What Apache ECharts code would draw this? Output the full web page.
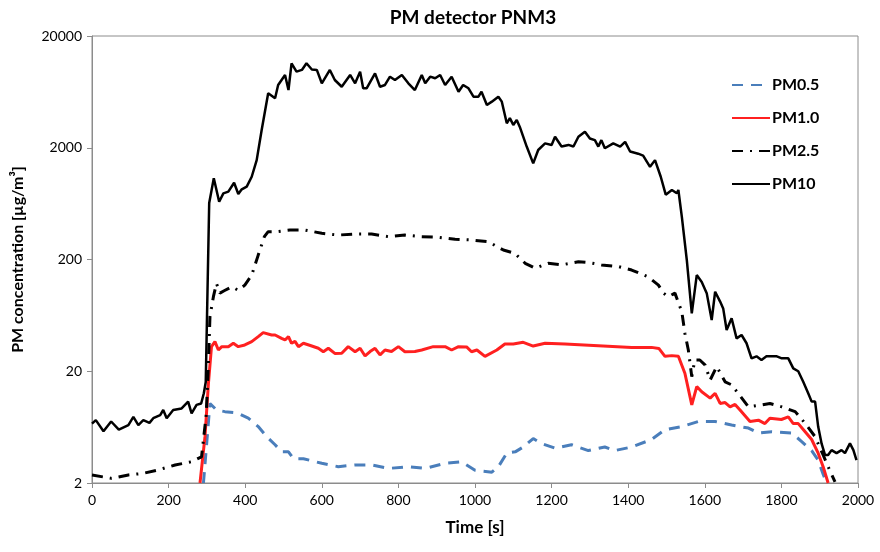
<!DOCTYPE html>
<html>
<head>
<meta charset="utf-8">
<title>PM detector PNM3</title>
<script src="https://cdn.jsdelivr.net/npm/echarts@6/dist/echarts.min.js"></script>
<style>
  html, body { margin: 0; padding: 0; background: #fff; }
  #chart { width: 880px; height: 552px; }
</style>
</head>
<body>
<div id="chart"></div>
<script>
// time [s] and concentration [ug/m3]
const pm05Time = [291, 308, 325, 347, 378, 408, 434, 456, 478, 495, 513, 526, 552, 600, 643, 687, 730, 774, 826, 870, 922, 965, 1000, 1044, 1061, 1083, 1105, 1126, 1152, 1174, 1209, 1252, 1296, 1339, 1365, 1409, 1461, 1496, 1540, 1583, 1627, 1670, 1714, 1740, 1775, 1827, 1853, 1879, 1896, 1909, 1918]
const pm05Values = [2, 10.3, 9.0, 8.7, 8.5, 7.6, 6.4, 5.2, 4.4, 3.8, 3.8, 3.3, 3.3, 3.0, 2.8, 2.9, 2.9, 2.7, 2.8, 2.7, 3.0, 3.1, 2.6, 2.5, 2.8, 3.7, 3.8, 4.2, 5.0, 4.5, 4.1, 4.4, 3.9, 4.2, 3.9, 4.2, 4.9, 6.0, 6.4, 7.1, 7.1, 6.6, 6.2, 5.6, 5.75, 5.6, 4.7, 3.9, 3.2, 2.4, 2]

const pm10Time = [282, 295, 304, 312, 321, 330, 339, 356, 369, 382, 399, 417, 434, 447, 469, 478, 495, 504, 513, 521, 530, 539, 552, 570, 591, 604, 617, 634, 652, 669, 687, 700, 713, 726, 739, 752, 765, 782, 800, 817, 843, 861, 891, 922, 939, 957, 978, 991, 1005, 1026, 1057, 1078, 1100, 1126, 1152, 1183, 1235, 1322, 1409, 1461, 1480, 1496, 1514, 1531, 1548, 1566, 1579, 1592, 1614, 1627, 1640, 1653, 1666, 1679, 1692, 1718, 1740, 1757, 1770, 1800, 1818, 1831, 1844, 1862, 1879, 1896, 1909, 1922]
const pm10Values = [2, 5.2, 15.6, 33.2, 36.8, 31, 33.2, 33.2, 35.6, 33.2, 34.4, 36.8, 40.8, 44.3, 42.2, 42.2, 39.4, 38.1, 40.8, 35.6, 37, 33.2, 35.6, 34, 32.1, 29.9, 32.1, 28.9, 29, 33.2, 29.9, 32.1, 27.4, 30, 32.1, 28, 31, 30, 33.2, 29.9, 30, 31, 33.2, 33.2, 31, 33.2, 33, 29.9, 31, 27.2, 31, 35.1, 35, 36.3, 33.6, 35.6, 35.1, 33.9, 32.7, 32.7, 32, 27.2, 27.6, 27.2, 19.2, 10.0, 14.6, 13.1, 11.5, 12.7, 10.3, 10.5, 9.6, 10.1, 9.0, 7.1, 7.3, 6.8, 7.6, 7.4, 7.8, 6.8, 6.8, 5.75, 4.9, 3.7, 2.8, 2]

const pm25Time = [0, 51, 95, 134, 173, 217, 260, 286, 298, 303, 308, 317, 325, 334, 345, 365, 382, 399, 417, 434, 450, 460, 482, 517, 556, 600, 643, 687, 730, 774, 817, 861, 904, 948, 991, 1035, 1074, 1104, 1131, 1157, 1191, 1226, 1270, 1300, 1330, 1374, 1409, 1452, 1479, 1492, 1505, 1522, 1540, 1548, 1557, 1566, 1574, 1587, 1601, 1614, 1631, 1653, 1670, 1687, 1714, 1748, 1770, 1801, 1836, 1862, 1888, 1909, 1922, 1940]
const pm25Values = [2.36, 2.2, 2.36, 2.44, 2.62, 2.9, 3.1, 3.43, 8, 19, 61.6, 93, 122, 100, 105, 114, 106, 118, 145, 219, 320, 355, 355, 367, 367, 343, 331, 338, 338, 320, 331, 320, 316, 303, 299, 288, 243, 227, 185, 167, 185, 179, 191, 187, 179, 173, 161, 140, 118, 100, 93, 100, 68, 43.8, 31, 17.9, 25.2, 25.2, 22.7, 16.7, 22, 16.1, 15.1, 12.7, 9.6, 10.0, 10.3, 9.6, 8.7, 6.84, 5.19, 3.56, 2.8, 2.05]

const pmTenTime = [0, 10, 30, 50, 70, 95, 108, 121, 134, 150, 160, 178, 186, 195, 212, 234, 251, 260, 273, 285, 292, 297, 306, 318, 332, 343, 356, 371, 382, 391, 404, 417, 430, 443, 460, 478, 486, 495, 504, 513, 521, 534, 548, 560, 574, 587, 600, 621, 634, 652, 674, 687, 700, 708, 717, 739, 752, 765, 778, 791, 809, 826, 843, 861, 870, 883, 896, 909, 922, 939, 957, 969, 983, 996, 1009, 1017, 1031, 1044, 1061, 1070, 1083, 1091, 1100, 1109, 1117, 1135, 1152, 1165, 1183, 1200, 1209, 1226, 1244, 1257, 1270, 1287, 1300, 1313, 1322, 1330, 1339, 1361, 1379, 1392, 1405, 1426, 1439, 1457, 1470, 1485, 1498, 1514, 1527, 1531, 1540, 1553, 1566, 1579, 1592, 1605, 1618, 1627, 1640, 1648, 1657, 1670, 1683, 1696, 1709, 1722, 1735, 1748, 1761, 1775, 1788, 1801, 1818, 1831, 1844, 1857, 1870, 1879, 1888, 1896, 1905, 1914, 1922, 1931, 1944, 1957, 1966, 1979, 1988, 1996]
const pmTenValues = [6.8, 7.3, 5.8, 7.1, 6.0, 6.6, 7.8, 6.6, 7.3, 6.9, 7.6, 8.1, 9.0, 7.6, 9.0, 9.3, 10.7, 8.4, 10.0, 10.3, 12.7, 16, 640, 1066, 658, 782, 809, 973, 771, 849, 897, 1100, 1550, 2880, 6140, 5540, 7290, 8080, 8960, 6570, 11400, 9600, 9940, 11400, 10030, 9940, 7550, 9940, 8080, 7030, 8960, 7550, 9600, 6810, 6810, 9270, 7030, 7290, 8650, 8080, 8960, 7550, 6570, 8960, 7550, 8650, 8370, 8960, 7290, 8650, 6350, 7290, 6810, 5730, 5730, 6350, 4830, 5170, 5730, 5170, 3310, 3680, 3200, 3550, 3070, 2050, 1450, 1910, 2190, 2120, 2510, 2050, 2120, 2050, 2510, 2780, 2420, 2340, 2050, 2340, 1980, 2190, 2050, 2260, 1850, 1770, 1700, 1350, 1550, 1100, 760, 838, 782, 838, 483, 198, 66, 145, 126, 100, 57.5, 103, 84, 73, 46.8, 59.6, 39.4, 42.2, 35.6, 26.1, 27.2, 25.2, 27.2, 27.2, 27.2, 26.1, 26.1, 21.2, 20.0, 16.1, 12.7, 10.7, 10.7, 6.4, 4.5, 3.56, 3.56, 3.94, 3.7, 3.94, 3.7, 4.53, 3.94, 3.21]

const yTicks = [2, 20, 200, 2000, 20000]
const yBase = 2

// the axis is log10(v / 2), so 2 -> 0 and 20000 -> 4
function toPairs(times, values) {
    return times.map((t, i) => [t, Math.log10(values[i] / yBase)])
}

const chart = echarts.init(document.getElementById('chart'))
const font = 'Lato, "Open Sans", sans-serif'

chart.setOption({
    backgroundColor: '#fff',
    animation: false,
    textStyle: { fontFamily: font },
    title: {
        text: 'PM detector PNM3',
        left: 468,
        textAlign: 'center',
        top: 3,
        textStyle: { fontSize: 19, fontWeight: 'bold', color: '#000', fontFamily: font }
    },
    legend: {
        orient: 'vertical',
        left: 726,
        top: 72,
        itemWidth: 38,
        itemHeight: 14,
        itemGap: 17,
        // hide the marker dot, keep the line sample
        itemStyle: { opacity: 0 },
        textStyle: { fontSize: 16, fontWeight: 'bold', color: '#000', padding: [0, 0, 0, -3] },
        data: ['PM0.5', 'PM1.0', 'PM2.5', 'PM10']
    },
    grid: {
        left: 92,
        right: 22,
        top: 36,
        bottom: 69,
        show: true,
        borderColor: '#8c8c8c',
        borderWidth: 1
    },
    xAxis: {
        type: 'value',
        min: 0,
        max: 2000,
        interval: 200,
        name: 'Time [s]',
        nameLocation: 'middle',
        nameGap: 36,
        nameTextStyle: { fontSize: 17, fontWeight: 'bold', color: '#000' },
        axisLine: { lineStyle: { color: '#8c8c8c' } },
        axisTick: { inside: false, length: 5, lineStyle: { color: '#8c8c8c' } },
        axisLabel: { fontSize: 14, color: '#000', margin: 10, formatter: v => String(v) },
        splitLine: { show: false }
    },
    yAxis: {
        type: 'value',
        min: 0,
        max: 4,
        interval: 1,
        name: 'PM concentration [µg/m³]',
        nameLocation: 'middle',
        nameGap: 66,
        nameTextStyle: { fontSize: 16, fontWeight: 'bold', color: '#000' },
        axisLine: { show: true, lineStyle: { color: '#8c8c8c' } },
        axisTick: { show: true, inside: false, length: 5, lineStyle: { color: '#8c8c8c' } },
        axisLabel: {
            fontSize: 14,
            color: '#000',
            margin: 10,
            formatter: v => String(yTicks[Math.round(v)])
        },
        splitLine: { show: false }
    },
    series: [
        {
            name: 'PM0.5',
            type: 'line',
            symbol: 'none',
            clip: true,
            lineStyle: { color: '#4a7ebb', width: 3, type: [11, 8] },
            itemStyle: { color: '#4a7ebb' },
            data: toPairs(pm05Time, pm05Values)
        },
        {
            name: 'PM1.0',
            type: 'line',
            symbol: 'none',
            clip: true,
            lineStyle: { color: '#ff2020', width: 3 },
            itemStyle: { color: '#ff2020' },
            data: toPairs(pm10Time, pm10Values)
        },
        {
            name: 'PM2.5',
            type: 'line',
            symbol: 'none',
            clip: true,
            lineStyle: { color: '#000', width: 3, type: [11, 7, 2, 7] },
            itemStyle: { color: '#000' },
            data: toPairs(pm25Time, pm25Values)
        },
        {
            name: 'PM10',
            type: 'line',
            symbol: 'none',
            clip: true,
            lineStyle: { color: '#000', width: 2.5 },
            itemStyle: { color: '#000' },
            data: toPairs(pmTenTime, pmTenValues)
        }
    ]
})
</script>
</body>
</html>
